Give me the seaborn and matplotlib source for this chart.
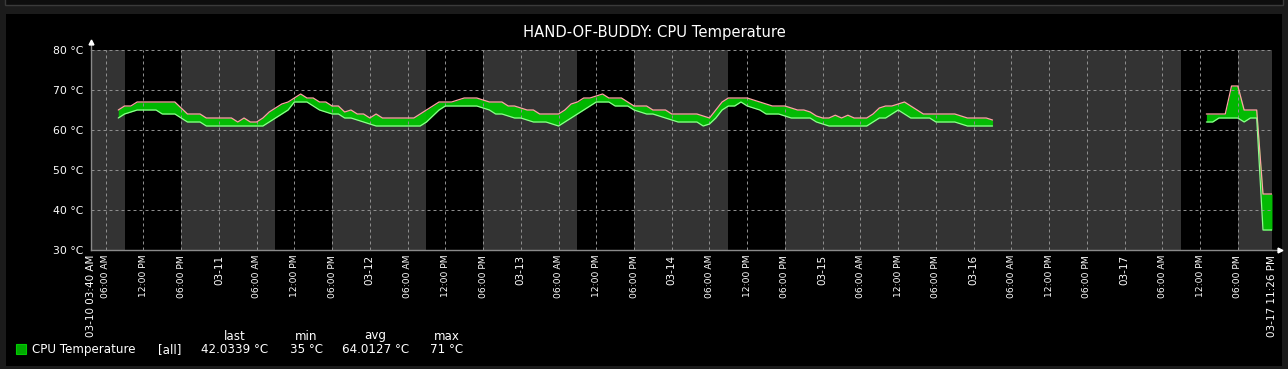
import numpy as np
import pandas as pd
import matplotlib
matplotlib.use("Agg")
import matplotlib.pyplot as plt
import matplotlib.patches as mpatches
import matplotlib.dates as mdates
import seaborn as sns

# ---------------- data ----------------
title = "HAND-OF-BUDDY: CPU Temperature"
range_start = "2025-03-10 03:40"
range_end = "2025-03-17 23:26"

# segment 1: hourly samples starting 03-10 08:00
seg1_start = "2025-03-10 08:00"
seg1_max = [65, 66, 66, 67, 67, 67, 67, 67, 67, 67,
            65.5, 64, 64, 64, 63, 63, 63, 63, 63, 62,
            63, 62, 62, 63, 64.5, 65.5, 66.5, 67, 68, 69,
            68, 68, 67, 67, 66, 66, 64.5, 65, 64, 64,
            63, 64, 63, 63, 63, 63, 63, 63, 64, 65,
            66, 67, 67, 67, 67.5, 68, 68, 68, 67.5, 67,
            67, 67, 66, 66, 65.5, 65, 65, 64, 64, 64,
            64, 65, 66.5, 67, 68, 68, 68.5, 69, 68, 68,
            68, 67, 66, 66, 66, 65, 65, 65, 64, 64,
            64, 64, 64, 63.5, 63, 65, 67, 68, 68, 68,
            68, 67.5, 67, 66.5, 66, 66, 66, 65.5, 65, 65,
            64.5, 63.5, 63, 63, 63.7, 63, 63.7, 63, 63, 63,
            64, 65.5, 66, 66, 66.5, 67, 66, 65, 64, 64,
            64, 64, 64, 64, 63.5, 63, 63, 63, 63, 62.5]
seg1_min = [63, 64, 64.5, 65, 65, 65, 65, 64, 64, 64,
            63, 62, 62, 62, 61, 61, 61, 61, 61, 61,
            61, 61, 61, 61, 62, 63, 64, 65, 67, 67,
            67, 66, 65, 64.5, 64, 64, 63, 63, 62.5, 62,
            61.5, 61, 61, 61, 61, 61, 61, 61, 61, 62,
            63.5, 65, 66, 66, 66, 66, 66, 66, 65.5, 65,
            64, 64, 63.5, 63, 63, 62.5, 62, 62, 62, 61.5,
            61, 62, 63, 64, 65, 66, 67, 67, 67, 66,
            66, 66, 65, 64.5, 64, 64, 63.5, 63, 62.5, 62,
            62, 62, 62, 61, 61.5, 63, 65, 66, 66, 67,
            66, 65.5, 65, 64, 64, 64, 63.5, 63, 63, 63,
            63, 62, 61.5, 61, 61, 61, 61, 61, 61, 61,
            62, 63, 63, 64, 65, 64, 63, 63, 63, 63,
            62, 62, 62, 62, 61.5, 61, 61, 61, 61, 61]

# segment 2: after the data gap
seg2_times = ["2025-03-17 13:00", "2025-03-17 14:00", "2025-03-17 15:00",
              "2025-03-17 16:00", "2025-03-17 17:00", "2025-03-17 18:00",
              "2025-03-17 19:00", "2025-03-17 20:00", "2025-03-17 21:00",
              "2025-03-17 22:00", "2025-03-17 23:00", "2025-03-17 23:26"]
seg2_max = [64, 64, 64, 64, 71, 71, 65, 65, 65, 44, 44, 44]
seg2_min = [62, 62, 63, 63, 63, 63, 62, 63, 63, 35, 35, 35]

work_days = ["2025-03-10", "2025-03-11", "2025-03-12",
             "2025-03-13", "2025-03-14", "2025-03-17"]
work_hours = (9, 18)

y_ticks = [30, 40, 50, 60, 70, 80]
legend_name = "CPU Temperature"
legend_func = "[all]"
legend_headers = ["last", "min", "avg", "max"]
legend_values = ["42.0339 °C", "35 °C", "64.0127 °C", "71 °C"]

# ---------------- build table ----------------
t1 = pd.date_range(seg1_start, periods=len(seg1_max), freq="h")
df1 = pd.DataFrame({"time": t1, "max": seg1_max, "min": seg1_min, "segment": 1})
df2 = pd.DataFrame({"time": pd.to_datetime(seg2_times), "max": seg2_max,
                    "min": seg2_min, "segment": 2})
df = pd.concat([df1, df2], ignore_index=True)

# ---------------- style ----------------
sns.set_theme(style="dark")
plt.rcParams["font.family"] = ["DejaVu Sans"]

W, H = 1288, 369
fig = plt.figure(figsize=(W / 100, H / 100), dpi=100)
fig.patch.set_facecolor("#1b1b1b")
# panel
fig.patches.append(mpatches.Rectangle((6 / W, 1 - 366 / H), 1276 / W, 352 / H,
                                      transform=fig.transFigure,
                                      facecolor="#000000", edgecolor="none", zorder=-10))
# top box
fig.patches.append(mpatches.Rectangle((5 / W, 1 - 5 / H), 1278 / W, 10 / H,
                                      transform=fig.transFigure,
                                      facecolor="#0d0d0d", edgecolor="#3a3a3a",
                                      linewidth=1, zorder=-10))

ax = fig.add_axes([91 / W, 1 - 250 / H, 1181 / W, 200 / H])
ax.set_zorder(5)
ax.set_facecolor("#333333")

t_start = pd.Timestamp(range_start)
t_end = pd.Timestamp(range_end)

# working time (black)
for d in work_days:
    d0 = pd.Timestamp(d)
    ax.axvspan(d0 + pd.Timedelta(hours=work_hours[0]),
               d0 + pd.Timedelta(hours=work_hours[1]),
               color="#000000", lw=0, zorder=0.5)

# band
for seg, sub in df.groupby("segment"):
    ax.fill_between(sub["time"], sub["min"], sub["max"], color="#00c800",
                    alpha=0.92, lw=0, zorder=2)
sns.lineplot(data=df, x="time", y="max", units="segment", estimator=None,
             color="#ffa4a4", lw=0.9, ax=ax, zorder=3)
sns.lineplot(data=df, x="time", y="min", units="segment", estimator=None,
             color="#8cff8c", lw=0.9, ax=ax, zorder=3)

ax.set_xlim(t_start, t_end)
ax.set_ylim(30, 80)

# ticks
mid = pd.date_range("2025-03-10 06:00", "2025-03-17 18:00", freq="6h")
ticks = [t_start] + list(mid) + [t_end]
labels, sizes = [], []
for i, t in enumerate(ticks):
    if i == 0 or i == len(ticks) - 1:
        labels.append(t.strftime("%m-%d %I:%M %p"))
        sizes.append(7.5)
    elif t.hour == 0:
        labels.append(t.strftime("%m-%d"))
        sizes.append(7.5)
    else:
        labels.append(t.strftime("%I:%M %p"))
        sizes.append(6.6)
tick_nums = mdates.date2num([t.to_pydatetime() for t in ticks])
ax.set_xticks(tick_nums)
ax.set_xticklabels(labels, rotation=90)
for lab, s in zip(ax.get_xticklabels(), sizes):
    lab.set_fontsize(s)
    lab.set_color("white")
ax.set_yticks(y_ticks)
ax.set_yticklabels([f"{v} °C" for v in y_ticks], fontsize=7.8, color="white")
ax.tick_params(axis="x", length=0, pad=3.5)
ax.tick_params(axis="y", length=0, pad=5.8)
ax.set_xlabel("")
ax.set_ylabel("")

ax.grid(True, color="#8e8e8e", linestyle=(0, (3, 3)), linewidth=0.72, zorder=1)
ax.set_axisbelow(False)
for gl in ax.get_xgridlines() + ax.get_ygridlines():
    gl.set_zorder(1.5)

for s in ["top", "right"]:
    ax.spines[s].set_visible(False)
for s in ["left", "bottom"]:
    ax.spines[s].set_color("#8a8a8a")
    ax.spines[s].set_linewidth(1.0)
    ax.spines[s].set_zorder(4)
# axis extensions and arrows
ax.plot([0, 0], [1, 1.035], color="#8a8a8a", lw=1.0, transform=ax.transAxes, clip_on=False)
ax.plot([1, 1.0055], [0, 0], color="#8a8a8a", lw=1.0, transform=ax.transAxes, clip_on=False)
ax.plot([0], [1.04], marker="^", ms=3.5, color="white", mec="white",
        transform=ax.transAxes, clip_on=False)
ax.plot([1.0065], [0], marker=">", ms=3.5, color="white", mec="white",
        transform=ax.transAxes, clip_on=False)

# title
fig.text(654.5 / W, 1 - 33 / H, title, ha="center", va="center",
         fontsize=10.6, color="white")

# legend
fig.patches.append(mpatches.Rectangle((16 / W, 1 - 354 / H), 10 / W, 10 / H,
                                      transform=fig.transFigure,
                                      facecolor="#00aa00", edgecolor="#00cc00",
                                      linewidth=0.8))
fig.text(32 / W, 1 - 349.5 / H, legend_name, ha="left", va="center",
         fontsize=8.6, color="white")
fig.text(158 / W, 1 - 349.5 / H, legend_func, ha="left", va="center",
         fontsize=8.6, color="white")
val_x = [234.5, 306, 375.5, 447]
for hx, h, v in zip(val_x, legend_headers, legend_values):
    fig.text(hx / W, 1 - 336 / H, h, ha="center", va="center", fontsize=8.6, color="white")
    fig.text(hx / W, 1 - 349.5 / H, v, ha="center", va="center", fontsize=8.6, color="white")

fig.savefig("out.png", dpi=100, facecolor=fig.get_facecolor())
